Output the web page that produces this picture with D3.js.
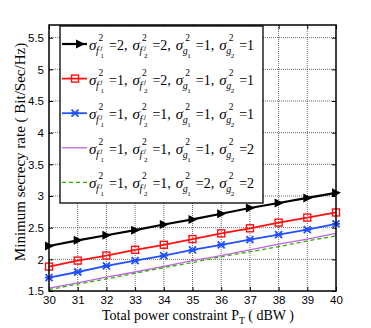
<!DOCTYPE html>
<html><head><meta charset="utf-8">
<script src="https://cdn.jsdelivr.net/npm/d3@7"></script>
<style>body{margin:0;background:#fff}svg{display:block}</style>
</head><body>
<script>
const xValues = [30,31,32,33,34,35,36,37,38,39,40];
const seriesBlack  = [2.21,2.30,2.38,2.46,2.55,2.63,2.72,2.81,2.89,2.97,3.05];
const seriesRed    = [1.885,1.98,2.06,2.15,2.23,2.32,2.41,2.49,2.58,2.66,2.74];
const seriesBlue   = [1.71,1.80,1.895,1.98,2.06,2.15,2.23,2.31,2.39,2.47,2.56];
const seriesPurple = [1.545,1.63,1.72,1.80,1.89,1.98,2.06,2.15,2.24,2.32,2.41];
const seriesGreen  = [1.52,1.61,1.69,1.78,1.87,1.95,2.04,2.12,2.20,2.29,2.37];
const xTicks = [30,31,32,33,34,35,36,37,38,39,40];
const yTicks = [1.5,2,2.5,3,3.5,4,4.5,5,5.5];
const yTickLabels = ["1.5","2","2.5","3","3.5","4","4.5","5","5.5"];
// legend values: [f1, f2, g1, g2]
const legendValues = [[2,2,1,1],[1,2,1,1],[1,1,1,1],[1,1,1,2],[1,1,2,2]];

const W=371,H=328, L=49,R=336,T=25,B=291;
const svg=d3.select("body").append("svg").attr("width",W).attr("height",H);
const x=d3.scaleLinear().domain([30,40]).range([L,R]);
const y=d3.scaleLinear().domain([1.5,5.7]).range([B,T]);

const g=svg.append("g");
g.selectAll(".gx").data(xTicks.slice(1,-1)).join("line")
 .attr("x1",d=>x(d)).attr("x2",d=>x(d)).attr("y1",T).attr("y2",B)
 .attr("stroke","#444").attr("stroke-width",0.8).attr("stroke-dasharray","1,1");
g.selectAll(".gy").data(yTicks.slice(1)).join("line")
 .attr("y1",d=>y(d)).attr("y2",d=>y(d)).attr("x1",L).attr("x2",R)
 .attr("stroke","#444").attr("stroke-width",0.8).attr("stroke-dasharray","1,1");

const sans="'Liberation Sans', Arial, sans-serif", serif="'Liberation Serif','Times New Roman',serif";
const ax=svg.append("g").attr("transform",`translate(0,${B})`)
 .call(d3.axisBottom(x).tickValues(xTicks).tickSize(-4).tickPadding(6).tickFormat(d3.format("d")));
const ax2=svg.append("g").attr("transform",`translate(0,${T})`)
 .call(d3.axisTop(x).tickValues(xTicks).tickSize(-4).tickFormat(""));
const ay=svg.append("g").attr("transform",`translate(${L},0)`)
 .call(d3.axisLeft(y).tickValues(yTicks).tickSize(-4).tickPadding(5).tickFormat((d,i)=>yTickLabels[i]));
const ay2=svg.append("g").attr("transform",`translate(${R},0)`)
 .call(d3.axisRight(y).tickValues(yTicks).tickSize(-4).tickFormat(""));
[ax,ax2,ay,ay2].forEach(a=>{a.select(".domain").remove();a.selectAll("line").attr("stroke","#000");
 a.selectAll("text").attr("font-family",sans).attr("font-size",11.5).attr("fill","#000");});
ax.selectAll("text").attr("dy","0.6em");

const series=[
 {v:seriesBlack,c:"#000",w:2.2,m:"tri"},
 {v:seriesRed,c:"#ff1010",w:1.8,m:"sq"},
 {v:seriesBlue,c:"#2050ff",w:1.8,m:"ast"},
 {v:seriesPurple,c:"#c060e8",w:1.3,m:null},
 {v:seriesGreen,c:"#30b000",w:1.3,m:null,dash:"4,3"}];
const line=d3.line().x((d,i)=>x(xValues[i])).y(d=>y(d));
function marker(sel,type,c,px,py){
 if(type==="tri") sel.append("path").attr("d",`M${px-4},${py-4.5}L${px+5},${py}L${px-4},${py+4.5}Z`).attr("fill",c);
 else if(type==="sq") sel.append("rect").attr("x",px-3.5).attr("y",py-3.5).attr("width",7).attr("height",7).attr("fill","none").attr("stroke",c).attr("stroke-width",1.4);
 else if(type==="ast") sel.append("path").attr("d",`M${px-3.5},${py-3.5}L${px+3.5},${py+3.5}M${px-3.5},${py+3.5}L${px+3.5},${py-3.5}M${px-4},${py}L${px+4},${py}`).attr("stroke",c).attr("stroke-width",1.8).attr("fill","none");
}
const plot=svg.append("g");
series.forEach(s=>{
 plot.append("path").datum(s.v).attr("d",line).attr("fill","none").attr("stroke",s.c).attr("stroke-width",s.w).attr("stroke-dasharray",s.dash||null);
 if(s.m) s.v.forEach((d,i)=>marker(plot,s.m,s.c,x(xValues[i]),y(d)));
});

svg.append("rect").attr("x",L).attr("y",T).attr("width",R-L).attr("height",B-T).attr("fill","none").attr("stroke","#000").attr("stroke-width",1.5);

const lg=svg.append("g");
lg.append("rect").attr("x",60).attr("y",26).attr("width",203).attr("height",177).attr("fill","#fff").attr("stroke","#000").attr("stroke-width",1.3);
const subs=[["f","1",true],["f","2",true],["g","1",false],["g","2",false]];
legendValues.forEach((vals,k)=>{
 const ly=44+k*34.6, s=series[k];
 lg.append("line").attr("x1",62).attr("x2",87).attr("y1",ly).attr("y2",ly).attr("stroke",s.c).attr("stroke-width",s.w).attr("stroke-dasharray",s.dash||null);
 if(s.m) marker(lg,s.m,s.c,k===0?80:75,ly);
 let cx=89; const bl=ly+6;
 vals.forEach((v,j)=>{
  const [sl,sn,hasJ]=subs[j];
  const t=(tx,ty,str,fs,it)=>lg.append("text").attr("x",tx).attr("y",ty).attr("font-family",serif).attr("font-size",fs).attr("font-style",it?"italic":null).attr("fill","#000").text(str);
  t(cx,bl,"σ",15,true);
  t(cx+9.5,bl-9,"2",9.5,false);
  t(cx+7,bl+4,sl,10,true);
  if(hasJ) t(cx+11.5,bl-0.5,"j",7,true);
  t(cx+11.5,bl+8,sn,7,false);
  const str="=" + v + (j<3?",":"");
  const e=t(cx+20,bl,str,14,false);
  cx=cx+20+e.node().getComputedTextLength()+5;
 });
});

svg.append("text").attr("x",198).attr("y",320).attr("text-anchor","middle").attr("font-family",serif).attr("font-size",14).attr("fill","#000")
 .html('Total power constraint P<tspan font-size="9.5" dy="4">T</tspan><tspan dy="-4"> ( dBW )</tspan>');
svg.append("text").attr("transform","translate(25,152) rotate(-90)").attr("text-anchor","middle").attr("font-family",serif).attr("font-size",15).attr("fill","#000")
 .text("Minimum secrecy rate ( Bit/Sec/Hz)");
</script>
</body></html>
